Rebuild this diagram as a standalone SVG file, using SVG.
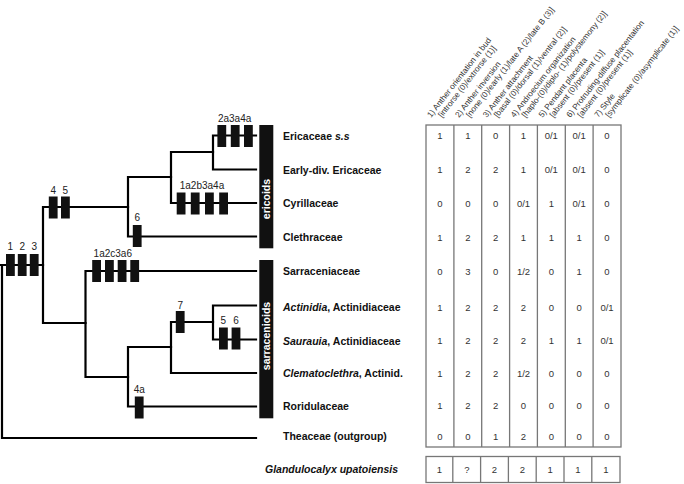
<svg xmlns="http://www.w3.org/2000/svg" width="684" height="484" viewBox="0 0 684 484">
<style>
.br{fill:none;stroke:#000;stroke-width:2.2;stroke-linecap:square}
.bx{fill:#111}
.lb{font-family:"Liberation Sans",Arial,sans-serif;font-size:10px;fill:#222;text-anchor:middle}
.tx{font-family:"Liberation Sans",Arial,sans-serif;font-size:10.5px;font-weight:bold;fill:#111}
.gp{font-family:"Liberation Sans",Arial,sans-serif;font-size:10.5px;font-weight:bold;fill:#fff;text-anchor:middle}
.hd{font-family:"Liberation Sans",Arial,sans-serif;font-size:8.2px;fill:#333}
.nm{font-family:"Liberation Sans",Arial,sans-serif;font-size:9.5px;fill:#333;text-anchor:middle}
.tb{fill:none;stroke:#777;stroke-width:1.3}
</style>
<rect width="684" height="484" fill="#fff"/>
<g id="connectors">
<path class="br" d="M0,265H43M2,265V438H256"/>
<path class="br" d="M43,207V323M43,207H128M43,323H85.5"/>
<path class="br" d="M128,177V236.5H256M128,177H171"/>
<path class="br" d="M171,152V203H256M171,152H213"/>
<path class="br" d="M213,135.5V169.5H256M213,135.5H256"/>
<path class="br" d="M85.5,271V377M85.5,271H256M85.5,377H128"/>
<path class="br" d="M128,347V406.5H256M128,347H171"/>
<path class="br" d="M171,322V373H256M171,322H213"/>
<path class="br" d="M213,305.5V339.5H256M213,305.5H256"/>
</g>
<g id="characters">
<g id="c123"><rect class="bx" x="6" y="254" width="8.8" height="22"/><rect class="bx" x="17.8" y="254" width="8.8" height="22"/><rect class="bx" x="29.8" y="254" width="8.8" height="22"/>
<text class="lb" x="10.4" y="250">1</text><text class="lb" x="22.2" y="250">2</text><text class="lb" x="34.2" y="250">3</text></g>
<g id="c45"><rect class="bx" x="48.8" y="196.5" width="8.8" height="22"/><rect class="bx" x="61" y="196.5" width="8.8" height="22"/>
<text class="lb" x="53.2" y="193.5">4</text><text class="lb" x="65.4" y="193.5">5</text></g>
<g id="c6"><rect class="bx" x="132.8" y="225" width="8.8" height="22"/><text class="lb" x="137.2" y="220.8">6</text></g>
<g id="ccyr"><rect class="bx" x="176.7" y="192.5" width="8.8" height="22"/><rect class="bx" x="190.8" y="192.5" width="8.8" height="22"/><rect class="bx" x="205" y="192.5" width="8.8" height="22"/><rect class="bx" x="219.2" y="192.5" width="8.8" height="22"/>
<text class="lb" x="202" y="188.5">1a2b3a4a</text></g>
<g id="ceric"><rect class="bx" x="217.4" y="125" width="8.8" height="22"/><rect class="bx" x="230.8" y="125" width="8.8" height="22"/><rect class="bx" x="244" y="125" width="8.8" height="22"/>
<text class="lb" x="234.6" y="121.5">2a3a4a</text></g>
<g id="csarr"><rect class="bx" x="92.2" y="260" width="8.8" height="22"/><rect class="bx" x="105" y="260" width="8.8" height="22"/><rect class="bx" x="117.7" y="260" width="8.8" height="22"/><rect class="bx" x="130.3" y="260" width="8.8" height="22"/>
<text class="lb" x="112.8" y="257">1a2c3a6</text></g>
<g id="c7"><rect class="bx" x="175.8" y="311" width="8.8" height="22"/><text class="lb" x="180.2" y="308.5">7</text></g>
<g id="c56"><rect class="bx" x="219" y="327.5" width="8.8" height="22"/><rect class="bx" x="231.6" y="327.5" width="8.8" height="22"/>
<text class="lb" x="223.4" y="324">5</text><text class="lb" x="236" y="324">6</text></g>
<g id="c4a"><rect class="bx" x="134.8" y="396.5" width="8.8" height="22"/><text class="lb" x="139.2" y="393">4a</text></g>
</g>
<g id="groups">
<g id="ericoids"><rect x="259.3" y="125" width="14" height="123.3" fill="#111"/><text class="gp" transform="translate(270.2,199) rotate(-90)">ericoids</text></g>
<g id="sarracenioids"><rect x="259.3" y="260" width="14" height="158.3" fill="#111"/><text class="gp" transform="translate(270.2,336) rotate(-90)">sarracenioids</text></g>
</g>
<g id="taxa">
<text id="t1" class="tx" x="283" y="139.7">Ericaceae <tspan font-style="italic">s.s</tspan></text>
<text id="t2" class="tx" x="283" y="173.7">Early-div. Ericaceae</text>
<text id="t3" class="tx" x="283" y="207">Cyrillaceae</text>
<text id="t4" class="tx" x="283" y="241.2">Clethraceae</text>
<text id="t5" class="tx" x="283" y="275.2">Sarraceniaceae</text>
<text id="t6" class="tx" x="283" y="311"><tspan font-style="italic">Actinidia</tspan>, Actinidiaceae</text>
<text id="t7" class="tx" x="283" y="344.7"><tspan font-style="italic">Saurauia</tspan>, Actinidiaceae</text>
<text id="t8" class="tx" x="283" y="377"><tspan font-style="italic">Clematoclethra</tspan>, Actinid.</text>
<text id="t9" class="tx" x="283" y="409.7">Roridulaceae</text>
<text id="t10" class="tx" x="283" y="440.4">Theaceae (outgroup)</text>
<text id="t11" class="tx" x="265" y="473" font-style="italic">Glandulocalyx upatoiensis</text>
</g>
<g id="headers">
<text class="hd" transform="translate(431,118) rotate(-52)">1) Anther orientation in bud</text>
<text class="hd" transform="translate(442,118) rotate(-52)">[introrse (0)/extrorse (1)]</text>
<text class="hd" transform="translate(458.9,118) rotate(-52)">2) Anther inversion</text>
<text class="hd" transform="translate(469.9,118) rotate(-52)">[none (0)/early (1)/late A (2)/late B (3)]</text>
<text class="hd" transform="translate(486.7,118) rotate(-52)">3) Anther attachment</text>
<text class="hd" transform="translate(497.7,118) rotate(-52)">[basal (0)/dorsal (1)/ventral (2)]</text>
<text class="hd" transform="translate(514.6,118) rotate(-52)">4) Androecium organization</text>
<text class="hd" transform="translate(525.6,118) rotate(-52)">[haplo-(0)/diplo- (1)/polystemony (2)]</text>
<text class="hd" transform="translate(542.4,118) rotate(-52)">5) Pendant placenta</text>
<text class="hd" transform="translate(553.4,118) rotate(-52)">[absent (0)/present (1)]</text>
<text class="hd" transform="translate(570.3,118) rotate(-52)">6) Protruding-diffuse placentation</text>
<text class="hd" transform="translate(581.3,118) rotate(-52)">[absent (0)/present (1)]</text>
<text class="hd" transform="translate(598.2,118) rotate(-52)">7) Style</text>
<text class="hd" transform="translate(609.2,118) rotate(-52)">[symplicate (0)/asymplicate (1)]</text>
</g>
<g id="table">
<rect class="tb" x="426" y="125" width="195" height="322"/>
<path class="tb" d="M453.9,125V447M481.7,125V447M509.6,125V447M537.4,125V447M565.3,125V447M593.1,125V447"/>
<rect class="tb" x="426" y="456.5" width="194" height="26"/>
<path class="tb" d="M452.8,456.5V482.5M480.6,456.5V482.5M508.4,456.5V482.5M536.2,456.5V482.5M564,456.5V482.5M591.8,456.5V482.5"/>
<g class="nm">
<text x="440" y="139.4">1</text><text x="467.8" y="139.4">1</text><text x="495.6" y="139.4">0</text><text x="523.5" y="139.4">1</text><text x="551.3" y="139.4">0/1</text><text x="579.2" y="139.4">0/1</text><text x="607" y="139.4">0</text>
<text x="440" y="173.4">1</text><text x="467.8" y="173.4">2</text><text x="495.6" y="173.4">2</text><text x="523.5" y="173.4">1</text><text x="551.3" y="173.4">0/1</text><text x="579.2" y="173.4">0/1</text><text x="607" y="173.4">0</text>
<text x="440" y="206.7">0</text><text x="467.8" y="206.7">0</text><text x="495.6" y="206.7">0</text><text x="523.5" y="206.7">0/1</text><text x="551.3" y="206.7">1</text><text x="579.2" y="206.7">0/1</text><text x="607" y="206.7">0</text>
<text x="440" y="240.9">1</text><text x="467.8" y="240.9">2</text><text x="495.6" y="240.9">2</text><text x="523.5" y="240.9">1</text><text x="551.3" y="240.9">1</text><text x="579.2" y="240.9">1</text><text x="607" y="240.9">0</text>
<text x="440" y="274.9">0</text><text x="467.8" y="274.9">3</text><text x="495.6" y="274.9">0</text><text x="523.5" y="274.9">1/2</text><text x="551.3" y="274.9">0</text><text x="579.2" y="274.9">1</text><text x="607" y="274.9">0</text>
<text x="440" y="310.7">1</text><text x="467.8" y="310.7">2</text><text x="495.6" y="310.7">2</text><text x="523.5" y="310.7">2</text><text x="551.3" y="310.7">0</text><text x="579.2" y="310.7">0</text><text x="607" y="310.7">0/1</text>
<text x="440" y="344.4">1</text><text x="467.8" y="344.4">2</text><text x="495.6" y="344.4">2</text><text x="523.5" y="344.4">2</text><text x="551.3" y="344.4">1</text><text x="579.2" y="344.4">1</text><text x="607" y="344.4">0/1</text>
<text x="440" y="376.7">1</text><text x="467.8" y="376.7">2</text><text x="495.6" y="376.7">2</text><text x="523.5" y="376.7">1/2</text><text x="551.3" y="376.7">0</text><text x="579.2" y="376.7">0</text><text x="607" y="376.7">0</text>
<text x="440" y="409.4">1</text><text x="467.8" y="409.4">2</text><text x="495.6" y="409.4">2</text><text x="523.5" y="409.4">0</text><text x="551.3" y="409.4">0</text><text x="579.2" y="409.4">0</text><text x="607" y="409.4">0</text>
<text x="440" y="440.1">0</text><text x="467.8" y="440.1">0</text><text x="495.6" y="440.1">1</text><text x="523.5" y="440.1">2</text><text x="551.3" y="440.1">0</text><text x="579.2" y="440.1">0</text><text x="607" y="440.1">0</text>
<text x="439.5" y="472.7">1</text><text x="466.8" y="472.7">?</text><text x="494.5" y="472.7">2</text><text x="522.3" y="472.7">2</text><text x="550.1" y="472.7">1</text><text x="577.9" y="472.7">1</text><text x="606" y="472.7">1</text>
</g>
</g>
</svg>
